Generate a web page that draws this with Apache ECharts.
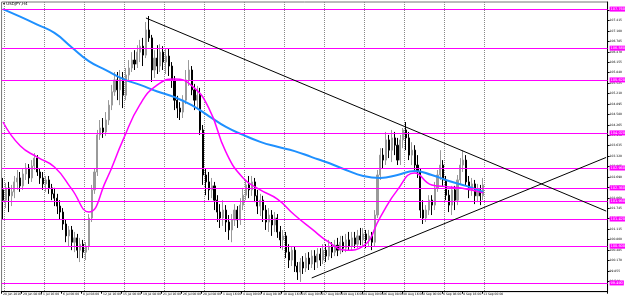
<!DOCTYPE html>
<html><head><meta charset="utf-8">
<script src="https://cdn.jsdelivr.net/npm/echarts@6/dist/echarts.min.js"></script>
<style>html,body{margin:0;padding:0;background:#fff}#c{width:625px;height:297px}</style>
</head><body><div id="c"></div>
<script>
// ---- data ----
const title = 'USDJPY,H4';
const xLabels = ['28 Jun 2016','29 Jun 08:00','1 Jul 16:00','6 Jul 00:00','8 Jul 08:00','12 Jul 16:00','15 Jul 00:00','19 Jul 08:00','21 Jul 16:00','26 Jul 00:00','28 Jul 08:00','1 Aug 16:00','4 Aug 00:00','8 Aug 08:00','10 Aug 16:00','15 Aug 00:00','17 Aug 08:00','19 Aug 16:00','24 Aug 00:00','26 Aug 08:00','30 Aug 16:00','2 Sep 00:00','6 Sep 08:00','8 Sep 16:00','13 Sep 00:00'];
const slotCount = 212;
const labelEvery = 7;
const gridEvery = 14;
// [open, close, low, high]
const candles = [
[102.30,101.99,101.39,102.66],[101.99,102.36,101.75,102.51],[102.36,102.12,101.63,102.54],[102.12,102.24,101.81,102.45],
[102.24,102.54,102.05,102.72],[102.54,102.66,102.30,102.90],[102.66,102.42,102.24,102.84],[102.42,102.78,102.30,102.96],
[102.78,102.96,102.60,103.11],[102.96,102.66,102.48,103.08],[102.66,103.02,102.54,103.20],[103.02,103.26,102.90,103.41],
[103.26,102.84,102.72,103.35],[102.84,102.66,102.48,102.96],[102.66,102.48,102.30,102.84],[102.48,102.60,102.24,102.72],
[102.60,102.36,102.18,102.72],[102.36,102.18,101.99,102.48],[102.18,102.05,101.81,102.36],[102.05,101.81,101.57,102.18],
[101.81,101.63,101.39,101.99],[101.63,101.27,101.09,101.75],[101.27,100.91,100.72,101.39],[100.91,101.09,100.60,101.21],
[101.09,100.72,100.48,101.21],[100.72,100.85,100.42,101.03],[100.85,100.48,100.24,100.97],[100.48,100.66,100.12,100.85],
[100.66,100.42,100.24,100.79],[100.42,100.60,100.18,100.72],[100.60,101.45,100.48,101.57],[101.45,102.30,101.33,102.45],
[102.30,102.84,102.18,102.96],[102.84,103.96,102.72,104.11],[103.96,104.17,103.81,104.41],[104.17,104.05,103.87,104.47],
[104.05,104.41,103.93,104.65],[104.41,104.86,104.26,105.01],[104.86,105.26,104.71,105.47],[105.26,105.62,105.14,105.86],
[105.62,105.32,105.01,105.86],[105.32,105.68,104.86,105.92],[105.68,105.16,104.77,105.86],[105.16,105.77,105.01,105.98],
[105.77,105.98,105.56,106.22],[105.98,106.22,105.86,106.46],[106.22,106.10,105.92,106.52],[106.10,106.46,105.98,106.67],
[106.46,106.64,106.16,106.83],[106.64,106.37,106.04,106.89],[106.37,107.13,106.28,107.37],[107.13,106.89,106.77,107.55],
[106.89,105.92,105.56,106.98],[105.92,106.28,105.68,106.52],[106.28,106.04,105.80,106.67],[106.04,106.46,105.86,106.70],
[106.46,106.16,105.92,106.64],[106.16,106.34,105.80,106.58],[106.34,106.04,105.74,106.58],[106.04,105.62,105.38,106.16],
[105.62,105.01,104.71,105.74],[105.01,104.77,104.47,105.14],[104.77,104.65,104.41,104.95],[104.65,105.01,104.47,105.16],
[105.01,105.62,104.89,105.92],[105.62,105.92,105.44,106.22],[105.92,105.32,105.16,106.04],[105.32,105.01,104.71,105.50],
[105.01,105.16,104.77,105.44],[105.16,104.11,103.96,105.38],[104.11,102.75,102.45,104.26],[102.75,102.54,102.14,102.96],
[102.54,102.30,101.99,102.84],[102.30,102.42,102.05,102.66],[102.42,101.99,101.69,102.54],[101.99,101.63,101.33,102.14],
[101.63,101.45,101.15,101.87],[101.45,101.69,101.21,101.99],[101.69,101.33,101.03,101.84],[101.33,101.09,100.79,101.54],
[101.09,101.39,100.72,101.57],[101.39,101.69,101.21,101.87],[101.69,101.39,101.15,101.81],[101.39,101.84,101.24,102.05],
[101.84,102.14,101.69,102.36],[102.14,102.45,101.99,102.60],[102.45,102.30,102.05,102.72],[102.30,102.54,102.12,102.72],
[102.54,102.12,101.93,102.66],[102.12,101.81,101.57,102.30],[101.81,101.99,101.51,102.18],[101.99,101.69,101.33,102.12],
[101.69,101.33,101.09,101.84],[101.33,101.54,101.03,101.75],[101.54,101.24,100.91,101.69],[101.24,101.45,101.03,101.63],
[101.45,101.03,100.85,101.57],[101.03,100.79,100.54,101.21],[100.79,100.91,100.48,101.09],[100.91,100.42,100.24,101.03],
[100.42,100.18,99.94,100.66],[100.18,100.48,100.00,100.60],[100.48,100.00,99.82,100.60],[100.00,99.82,99.58,100.12],
[99.82,100.12,99.52,100.24],[100.12,99.94,99.76,100.30],[99.94,100.24,99.82,100.39],[100.24,100.06,99.88,100.42],
[100.06,100.30,99.94,100.48],[100.30,100.12,99.88,100.48],[100.12,100.36,99.94,100.54],[100.36,100.18,100.00,100.54],
[100.18,100.48,100.06,100.66],[100.48,100.30,100.12,100.66],[100.30,100.60,100.18,100.79],[100.60,100.42,100.24,100.72],
[100.42,100.63,100.30,100.79],[100.63,100.48,100.30,100.85],[100.48,100.72,100.36,100.91],[100.72,100.54,100.42,100.91],
[100.54,100.79,100.42,100.97],[100.79,100.60,100.48,101.03],[100.60,100.85,100.48,101.03],[100.85,100.66,100.54,101.03],
[100.66,100.91,100.54,101.09],[100.91,100.79,100.63,101.15],[100.79,100.97,100.60,101.15],[100.97,100.79,100.54,101.09],
[100.79,100.91,100.60,101.09],[100.91,100.72,100.48,101.03],[100.72,101.54,100.60,101.69],[101.54,102.75,101.45,102.90],
[102.75,103.35,102.60,103.56],[103.35,103.20,102.96,103.56],[103.20,103.81,103.05,104.05],[103.81,103.50,103.26,103.96],
[103.50,103.87,103.14,104.11],[103.87,103.65,103.35,104.05],[103.65,103.20,103.05,103.87],[103.20,103.81,103.05,103.96],
[103.81,104.11,103.56,104.17],[104.11,103.87,103.50,104.35],[103.87,103.35,103.20,104.05],[103.35,103.50,103.05,103.74],
[103.50,103.05,102.84,103.65],[103.05,102.84,102.66,103.35],[102.84,101.69,101.45,102.96],[101.69,101.45,101.27,101.99],
[101.45,101.69,101.33,101.84],[101.69,101.99,101.54,102.14],[101.99,101.84,101.54,102.14],[101.84,102.36,101.69,102.54],
[102.36,102.75,102.24,102.90],[102.75,103.05,102.60,103.50],[103.05,102.60,102.42,103.20],[102.60,102.14,101.99,102.72],
[102.14,101.84,101.63,102.30],[101.84,102.30,101.54,102.42],[102.30,101.99,101.69,102.42],[101.99,102.60,101.84,102.75],
[102.60,103.05,102.45,103.26],[103.05,103.20,102.84,103.50],[103.20,102.54,102.42,103.35],[102.54,102.30,102.05,102.72],
[102.30,102.48,102.12,102.66],[102.48,102.12,101.87,102.60],[102.12,102.30,101.93,102.48],[102.30,102.12,101.84,102.45],
[102.12,102.45,101.99,102.66]
];
// moving averages, one value every maStep slots
const maStep = 6;
const maFast = [104.35,103.63,103.29,102.99,102.33,101.63,102.57,103.81,104.89,105.47,105.65,105.45,104.77,103.44,102.66,102.30,102.02,101.54,101.12,100.72,100.48,100.60,101.48,102.30,102.81,102.45,102.39,102.33,102.21];
const maSlow = [107.76,107.53,107.29,107.04,106.61,106.19,105.92,105.65,105.47,105.27,105.10,104.86,104.53,104.20,103.96,103.75,103.60,103.47,103.29,103.11,102.90,102.72,102.66,102.75,102.87,102.75,102.57,102.42,102.24];
const hLevels = [107.76,106.58,105.62,104.02,102.96,102.36,101.96,101.42,100.60,99.49];
const trendDown = [[50,107.49],[211,101.66]];
const trendUp = [[108,99.64],[211,103.28]];
const yMin = 99.225, yMax = 107.974, yStep = 0.315;

// ---- chart ----
const cats = Array.from({length: slotCount}, (_, k) => 's' + k);
const chart = echarts.init(document.getElementById('c'), null, {renderer: 'canvas'});
const magenta = '#ff00ff';
const hLines = hLevels.map(v => ({
  yAxis: v,
  lineStyle: {color: magenta, width: 1.2, type: 'solid'},
  label: {show: true, position: 'end', distance: 2, formatter: v.toFixed(3), fontSize: 3.5, color: '#fff',
          backgroundColor: magenta, padding: [0.5, 1], fontFamily: 'DejaVu Sans'}
}));
const trendStyle = {color: '#000', width: 1, type: 'solid'};
chart.setOption({
  animation: false,
  backgroundColor: '#fff',
  grid: {left: 1, right: 15, top: 2, bottom: 5.3, show: true, borderColor: '#777', borderWidth: 1},
  graphic: [{type: 'text', left: 3, top: 2, style: {text: '\u25BE ' + title, fontSize: 4, fill: '#000', fontFamily: 'DejaVu Sans'}}],
  xAxis: {
    type: 'category', data: cats, boundaryGap: true,
    axisLine: {lineStyle: {color: '#000', width: 1}},
    axisTick: {show: true, length: 2, interval: i => i % labelEvery === 0 && i / labelEvery < xLabels.length, lineStyle: {color: '#000'}},
    axisLabel: {fontSize: 3, color: '#000', margin: 1, align: 'left', fontFamily: 'DejaVu Sans',
      interval: i => i % labelEvery === 0 && i / labelEvery < xLabels.length,
      formatter: (v, i) => xLabels[Math.round(i / labelEvery)] || ''},
    splitLine: {show: true, interval: i => i % gridEvery === 1 && i < 180, lineStyle: {color: '#888', type: 'dotted', width: 1}}
  },
  yAxis: {
    type: 'value', position: 'right', min: yMin, max: yMax, interval: yStep, scale: true,
    axisLine: {show: true, lineStyle: {color: '#000', width: 1}},
    axisTick: {show: true, length: 2, lineStyle: {color: '#000'}},
    axisLabel: {fontSize: 3, color: '#000', margin: 2, showMaxLabel: false, showMinLabel: false,
      formatter: v => v.toFixed(3), fontFamily: 'DejaVu Sans'},
    splitLine: {show: false}
  },
  series: [
    {
      type: 'candlestick', data: candles, barWidth: 1.6,
      itemStyle: {color: '#9a9a9a', color0: '#000', borderColor: '#9a9a9a', borderColor0: '#000', borderWidth: 1},
      markLine: {silent: true, symbol: 'none', animation: false,
        lineStyle: {type: 'solid'},
        data: [...hLines,
          [{coord: trendDown[0], lineStyle: trendStyle, label: {show: false}}, {coord: trendDown[1], lineStyle: trendStyle}],
          [{coord: trendUp[0], lineStyle: trendStyle, label: {show: false}}, {coord: trendUp[1], lineStyle: trendStyle}]
        ]}
    },
    {type: 'line', data: maSlow.map((v, j) => [j * maStep, v]), smooth: true, showSymbol: false,
     lineStyle: {color: '#1e90ff', width: 2}, z: 3},
    {type: 'line', data: maFast.map((v, j) => [j * maStep, v]), smooth: true, showSymbol: false,
     lineStyle: {color: magenta, width: 1.5}, z: 4}
  ]
});
</script></body></html>
